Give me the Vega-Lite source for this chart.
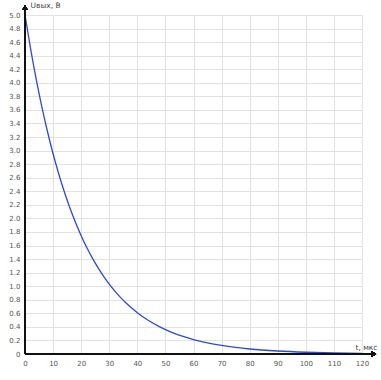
{
  "$schema": "https://vega.github.io/schema/vega-lite/v6.json",
  "width": 337,
  "height": 339,
  "autosize": "none",
  "padding": {"left": 25, "top": 15, "right": 19, "bottom": 26},
  "background": "white",
  "config": {
    "view": {"stroke": null},
    "font": "DejaVu Sans",
    "axis": {
      "domain": false,
      "ticks": false,
      "grid": true,
      "gridColor": "#e2e2e2",
      "gridWidth": 1,
      "labelFont": "DejaVu Sans",
      "labelFontSize": 7,
      "labelColor": "#555555",
      "titleFont": "DejaVu Sans",
      "titleFontSize": 7.5,
      "titleFontWeight": "normal",
      "titleColor": "#444444"
    }
  },
  "data": {
    "values": [
      {"t": 0, "u": 5.0},
      {"t": 2, "u": 4.5},
      {"t": 4, "u": 4.051},
      {"t": 6, "u": 3.646},
      {"t": 8, "u": 3.282},
      {"t": 10, "u": 2.954},
      {"t": 12, "u": 2.659},
      {"t": 14, "u": 2.393},
      {"t": 16, "u": 2.154},
      {"t": 18, "u": 1.939},
      {"t": 20, "u": 1.745},
      {"t": 22, "u": 1.571},
      {"t": 24, "u": 1.414},
      {"t": 26, "u": 1.273},
      {"t": 28, "u": 1.145},
      {"t": 30, "u": 1.031},
      {"t": 32, "u": 0.928},
      {"t": 34, "u": 0.835},
      {"t": 36, "u": 0.752},
      {"t": 38, "u": 0.677},
      {"t": 40, "u": 0.609},
      {"t": 44, "u": 0.493},
      {"t": 48, "u": 0.4},
      {"t": 52, "u": 0.324},
      {"t": 56, "u": 0.262},
      {"t": 60, "u": 0.213},
      {"t": 65, "u": 0.163},
      {"t": 70, "u": 0.126},
      {"t": 75, "u": 0.097},
      {"t": 80, "u": 0.074},
      {"t": 90, "u": 0.044},
      {"t": 100, "u": 0.026},
      {"t": 110, "u": 0.015},
      {"t": 120, "u": 0.009}
    ]
  },
  "layer": [
    {
      "mark": {"type": "line", "color": "#2a4bd7", "strokeWidth": 1.3, "interpolate": "monotone"},
      "encoding": {
        "x": {
          "field": "t", "type": "quantitative",
          "scale": {"domain": [0, 120], "nice": false, "zero": false},
          "axis": {
            "values": [0, 10, 20, 30, 40, 50, 60, 70, 80, 90, 100, 110, 120],
            "tickCount": 30,
            "labelOverlap": false,
            "labelFlush": false,
            "labelPadding": 5,
            "title": "t, мкс",
            "titleAngle": 0,
            "titleAlign": "right",
            "titleBaseline": "alphabetic",
            "titleX": 352,
            "titleY": -5
          }
        },
        "y": {
          "field": "u", "type": "quantitative",
          "scale": {"domain": [0, 5], "nice": false, "zero": false},
          "axis": {
            "values": [0, 0.2, 0.4, 0.6, 0.8, 1, 1.2, 1.4, 1.6, 1.8, 2, 2.2, 2.4, 2.6, 2.8, 3, 3.2, 3.4, 3.6, 3.8, 4, 4.2, 4.4, 4.6, 4.8, 5],
            "tickCount": 60,
            "labelOverlap": false,
            "labelFlush": false,
            "labelExpr": "datum.value == 0 ? '0' : format(datum.value, '.1f')",
            "labelPadding": 5,
            "title": "Uвых, В",
            "titleAngle": 0,
            "titleAlign": "left",
            "titleBaseline": "middle",
            "titleX": 5,
            "titleY": -10
          }
        }
      }
    },
    {
      "mark": {"type": "rule", "color": "#111111", "strokeWidth": 1.2},
      "encoding": {
        "x": {"datum": 0, "type": "quantitative"},
        "y": {"datum": 0, "type": "quantitative"},
        "y2": {"datum": 5.1}
      }
    },
    {
      "mark": {"type": "rule", "color": "#111111", "strokeWidth": 1.2},
      "encoding": {
        "x": {"datum": 0, "type": "quantitative"},
        "x2": {"datum": 124},
        "y": {"datum": 0, "type": "quantitative"}
      }
    },
    {
      "mark": {"type": "point", "shape": "triangle-up", "filled": true, "color": "#111111", "size": 30, "opacity": 1},
      "encoding": {
        "x": {"datum": 0, "type": "quantitative"},
        "y": {"datum": 5.11, "type": "quantitative"}
      }
    },
    {
      "mark": {"type": "point", "shape": "triangle-right", "filled": true, "color": "#111111", "size": 30, "opacity": 1},
      "encoding": {
        "x": {"datum": 124.2, "type": "quantitative"},
        "y": {"datum": 0, "type": "quantitative"}
      }
    }
  ]
}
